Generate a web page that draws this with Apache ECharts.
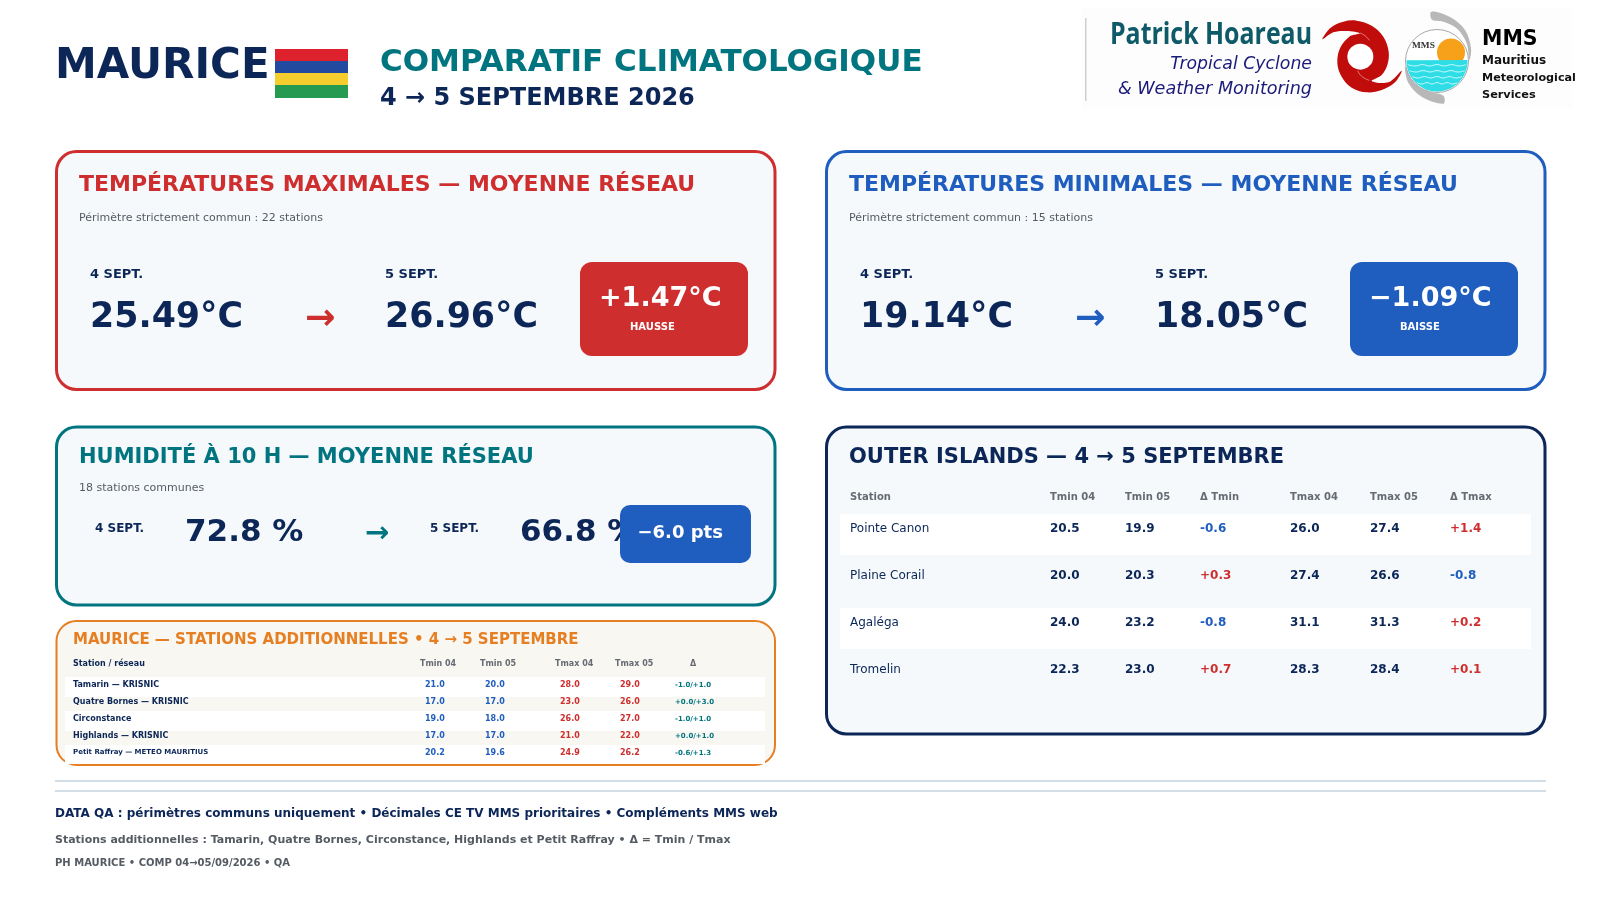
<!DOCTYPE html>
<html><head><meta charset="utf-8">
<style>html,body{margin:0;padding:0;background:#fff}#c{width:1600px;height:900px}</style>
<script src="https://cdn.jsdelivr.net/npm/echarts@6/dist/echarts.min.js"></script>
</head><body><div id="c"></div>
<script>
// ---------- data ----------
const tmaxDays = ['4 SEPT.', '5 SEPT.'];
const tmaxValues = ['25.49°C', '26.96°C'];
const tmaxDelta = '+1.47°C';
const tminValues = ['19.14°C', '18.05°C'];
const tminDelta = '−1.09°C';
const humidityValues = ['72.8 %', '66.8 %'];
const humidityDelta = '−6.0 pts';

const outerHeaders = ['Station', 'Tmin 04', 'Tmin 05', 'Δ Tmin', 'Tmax 04', 'Tmax 05', 'Δ Tmax'];
const outerStations = ['Pointe Canon', 'Plaine Corail', 'Agaléga', 'Tromelin'];
const outerTmin04 = ['20.5', '20.0', '24.0', '22.3'];
const outerTmin05 = ['19.9', '20.3', '23.2', '23.0'];
const outerDeltaMin = ['-0.6', '+0.3', '-0.8', '+0.7'];
const outerTmax04 = ['26.0', '27.4', '31.1', '28.3'];
const outerTmax05 = ['27.4', '26.6', '31.3', '28.4'];
const outerDeltaMax = ['+1.4', '-0.8', '+0.2', '+0.1'];

const addHeaders = ['Station / réseau', 'Tmin 04', 'Tmin 05', 'Tmax 04', 'Tmax 05', 'Δ'];
const addStations = ['Tamarin — KRISNIC', 'Quatre Bornes — KRISNIC', 'Circonstance', 'Highlands — KRISNIC', 'Petit Raffray — METEO MAURITIUS'];
const addTmin04 = ['21.0', '17.0', '19.0', '17.0', '20.2'];
const addTmin05 = ['20.0', '17.0', '18.0', '17.0', '19.6'];
const addTmax04 = ['28.0', '23.0', '26.0', '21.0', '24.9'];
const addTmax05 = ['29.0', '26.0', '27.0', '22.0', '26.2'];
const addDelta = ['-1.0/+1.0', '+0.0/+3.0', '-1.0/+1.0', '+0.0/+1.0', '-0.6/+1.3'];

// ---------- styles ----------
const NAVY = '#0c2657', TEAL = '#00757f', RED = '#cf2e2e', BLUE = '#1f5dbf', ORANGE = '#e67e22', GREY = '#555b63', FILL = '#f5f9fc';
const SANS = '"DejaVu Sans"';
const els = [];
function t(text, x, base, size, fill, weight, opts) {
  opts = opts || {};
  const drop = opts.drop === undefined ? 0.236 : opts.drop;
  els.push({ type: 'text', z: opts.z || 10, x: x, y: base + drop * size, scaleX: opts.sx || 1, style: {
    text: text, x: 0, y: 0, fill: fill,
    font: (opts.italic ? 'italic ' : '') + (weight || 'normal') + ' ' + size + 'px ' + (opts.family || SANS),
    textAlign: opts.align || 'left', verticalAlign: 'bottom'
  }});
}
function rect(x, y, w, h, fill, r, stroke, lw, z) {
  els.push({ type: 'rect', z: z || 1, shape: { x: x, y: y, width: w, height: h, r: r || 0 },
    style: { fill: fill, stroke: stroke || null, lineWidth: lw || 0 } });
}

// ---------- header ----------
t('MAURICE', 55, 78.5, 42, NAVY, 'bold');
rect(275, 49, 73, 12, '#dd222e'); rect(275, 61, 73, 12, '#224a9f');
rect(275, 73, 73, 12, '#f5cd2c'); rect(275, 85, 73, 13, '#259a50');
t('COMPARATIF CLIMATOLOGIQUE', 380, 71.5, 31, TEAL, 'bold');
t('4 → 5 SEPTEMBRE 2026', 380, 105, 24, NAVY, 'bold');

// ---------- logo ----------
rect(1082, 8, 490, 101, '#fdfdfd', 0, null, 0, 0);
rect(1085, 18, 1.5, 83, '#cfcfcf', 0, null, 0, 2);
const PH = '#0f5a68', PB = '#1a1a7a';
t('Patrick Hoareau', 1312, 43, 30, PH, 'bold', { family: '"Open Sans"', align: 'right', sx: 0.83, drop: 0.25 });
t('Tropical Cyclone', 1312, 69, 17.3, PB, 'normal', { italic: true, align: 'right' });
t('& Weather Monitoring', 1312, 94, 17.6, PB, 'normal', { italic: true, align: 'right' });
// emblem shapes are drawn in a 3x local frame
const EM = { x: 1310, y: 5, scaleX: 1 / 3, scaleY: 1 / 3 };
function emblem(points, fill, z) {
  els.push(Object.assign({ type: 'polygon', z: z || 5, style: { fill: fill }, shape: { smooth: 0.35, points: points } }, EM));
}
emblem([[37,103],[62,68],[100,50],[140,47],[185,62],[220,95],[236,140],[232,180],[215,210],[185,228],[235,232],[275,197],
  [255,232],[215,255],[170,262],[125,248],[95,215],[82,175],[90,130],[118,95],[150,85],[110,78],[70,82]], '#c10c0c');
els.push(Object.assign({ type: 'circle', z: 6, shape: { cx: 151, cy: 155, r: 39 }, style: { fill: '#fff' } }, EM));
els.push(Object.assign({ type: 'polyline', z: 6, shape: { points: [[150,84],[165,92],[178,106]], smooth: 0.5 }, style: { stroke: '#f0b0b0', lineWidth: 2, fill: null } }, EM));
els.push(Object.assign({ type: 'polyline', z: 6, shape: { points: [[143,197],[155,214],[178,226]], smooth: 0.5 }, style: { stroke: '#f0b0b0', lineWidth: 2, fill: null } }, EM));
emblem([[364,20],[420,36],[465,75],[483,130],[478,165],[470,115],[440,70],[400,50],[366,44]], '#b8b8b8');
emblem([[284,185],[296,235],[335,275],[400,296],[400,272],[350,258],[310,230],[292,195]], '#b8b8b8');
els.push({ type: 'circle', z: 6, shape: { cx: 1437, cy: 61, r: 31.5 }, style: { fill: '#ffffff', stroke: '#a8a8a8', lineWidth: 1 } });
els.push({ type: 'circle', z: 7, shape: { cx: 1451, cy: 52.5, r: 14 }, style: { fill: '#f7a11a' } });
// sea: chord segment of the disc
const seaTop = 60, R = 30.5, CX = 1437, CY = 61;
const ang = Math.asin((seaTop - CY) / R);
const seaPts = [];
for (let a = ang; a <= Math.PI - ang; a += 0.05) seaPts.push([CX + R * Math.cos(a), CY + R * Math.sin(a)]);
els.push({ type: 'polygon', z: 8, shape: { points: seaPts }, style: { fill: '#2fdde6' } });
[65, 71, 77, 83].forEach(y => {
  const half = Math.sqrt(R * R - (y - CY) * (y - CY)) - 1, pts = [];
  for (let i = 0; i <= 8; i++) pts.push([CX - half + i * half / 4, y + (i % 2 ? 1 : -0.4)]);
  els.push({ type: 'polyline', z: 9, shape: { points: pts, smooth: 0.5 }, style: { stroke: '#c9fbfd', lineWidth: 1, fill: null } });
});
t('MMS', 1412, 48, 7.5, '#333', 'bold', { family: '"Liberation Serif"', sx: 1.25, drop: 0.22 });
t('MMS', 1482, 45, 20.5, '#000', 'bold');
t('Mauritius', 1482, 64, 12, '#111', 'bold');
t('Meteorological', 1482, 81, 11.2, '#111', 'bold');
t('Services', 1482, 98, 11.3, '#111', 'bold');

// ---------- big cards ----------
function bigCard(ox, color, title, sub, values, delta, word) {
  rect(ox + 56.5, 151.5, 718.5, 238, FILL, 20, color, 3);
  t(title, ox + 79, 191, 22, color, 'bold');
  t(sub, ox + 79, 221, 11, GREY);
  t(tmaxDays[0], ox + 90, 278, 13, NAVY, 'bold');
  t(values[0], ox + 90, 327.5, 34.8, NAVY, 'bold');
  t('→', ox + 305, 329, 36.5, color, 'bold');
  t(tmaxDays[1], ox + 385, 278, 13, NAVY, 'bold');
  t(values[1], ox + 385, 327.5, 34.8, NAVY, 'bold');
  rect(ox + 580, 262, 168, 94, color, 12);
  t(delta, ox + 599, 306, 27, '#fff', 'bold');
  t(word, ox + 630, 330, 10, '#fff', 'bold');
}
bigCard(0, RED, 'TEMPÉRATURES MAXIMALES — MOYENNE RÉSEAU', 'Périmètre strictement commun : 22 stations', tmaxValues, tmaxDelta, 'HAUSSE');
bigCard(770, BLUE, 'TEMPÉRATURES MINIMALES — MOYENNE RÉSEAU', 'Périmètre strictement commun : 15 stations', tminValues, tminDelta, 'BAISSE');

// ---------- humidity ----------
rect(56.5, 427, 718.5, 178, FILL, 20, TEAL, 3);
t('HUMIDITÉ À 10 H — MOYENNE RÉSEAU', 79, 463, 21, TEAL, 'bold');
t('18 stations communes', 79, 491, 11, GREY);
t(tmaxDays[0], 95, 532, 12, NAVY, 'bold');
t(humidityValues[0], 185, 541.5, 31, NAVY, 'bold');
t('→', 365, 542, 29, TEAL, 'bold');
t(tmaxDays[1], 430, 532, 12, NAVY, 'bold');
t(humidityValues[1], 520, 541.5, 31, NAVY, 'bold');
rect(620, 505, 131, 58, BLUE, 10, null, 0, 11);
t(humidityDelta, 637.5, 538, 18, '#fff', 'bold', { z: 12 });

// ---------- outer islands ----------
rect(826.5, 427, 718.5, 307, FILL, 20, NAVY, 3);
t('OUTER ISLANDS — 4 → 5 SEPTEMBRE', 849, 463, 21, NAVY, 'bold');
const oX = [850, 1050, 1125, 1200, 1290, 1370, 1450];
outerHeaders.forEach((h, i) => t(h, oX[i], 500, 10, '#666b73', 'bold'));
const oBase = [532, 579, 626, 673];
rect(840, 514, 691, 41, '#fff', 0, null, 0, 2);
rect(840, 608, 691, 41, '#fff', 0, null, 0, 2);
const deltaCol = s => s[0] === '-' ? BLUE : RED;
outerStations.forEach((s, i) => {
  const y = oBase[i];
  t(s, oX[0], y, 12, NAVY);
  t(outerTmin04[i], oX[1], y, 12, NAVY, 'bold');
  t(outerTmin05[i], oX[2], y, 12, NAVY, 'bold');
  t(outerDeltaMin[i], oX[3], y, 12, deltaCol(outerDeltaMin[i]), 'bold');
  t(outerTmax04[i], oX[4], y, 12, NAVY, 'bold');
  t(outerTmax05[i], oX[5], y, 12, NAVY, 'bold');
  t(outerDeltaMax[i], oX[6], y, 12, deltaCol(outerDeltaMax[i]), 'bold');
});

// ---------- additional stations ----------
rect(56.5, 621, 718.5, 144, '#f8f7f2', 20, ORANGE, 2);
t('MAURICE — STATIONS ADDITIONNELLES • 4 → 5 SEPTEMBRE', 73, 644, 15, ORANGE, 'bold');
t(addHeaders[0], 73, 666, 8, NAVY, 'bold');
[420, 480, 555, 615, 690].forEach((x, i) => t(addHeaders[i + 1], x, 666, 8, '#666b73', 'bold'));
rect(65, 677, 700, 20, '#fff', 0, null, 0, 2);
rect(65, 711, 700, 20, '#fff', 0, null, 0, 2);
rect(65, 745, 700, 19, '#fff', 0, null, 0, 2);
addStations.forEach((s, i) => {
  const y = 687 + i * 17;
  t(s, 73, i === 4 ? y - 0.5 : y, i === 4 ? 7 : 8, NAVY, 'bold');
  t(addTmin04[i], 425, y, 8, BLUE, 'bold');
  t(addTmin05[i], 485, y, 8, BLUE, 'bold');
  t(addTmax04[i], 560, y, 8, RED, 'bold');
  t(addTmax05[i], 620, y, 8, RED, 'bold');
  t(addDelta[i], 675, y, 7, TEAL, 'bold');
});

// ---------- footer ----------
rect(55, 780, 1491, 2, '#d3dde5');
rect(55, 790, 1491, 2, '#d3dde5');
t('DATA QA : périmètres communs uniquement • Décimales CE TV MMS prioritaires • Compléments MMS web', 55, 817, 12, NAVY, 'bold');
t('Stations additionnelles : Tamarin, Quatre Bornes, Circonstance, Highlands et Petit Raffray • Δ = Tmin / Tmax', 55, 843, 11, GREY, 'bold');
t('PH MAURICE • COMP 04→05/09/2026 • QA', 55, 866, 10, GREY, 'bold');

const chart = echarts.init(document.getElementById('c'), null, { renderer: 'canvas' });
chart.setOption({ animation: false, backgroundColor: '#fff', graphic: { elements: els } });
</script></body></html>
